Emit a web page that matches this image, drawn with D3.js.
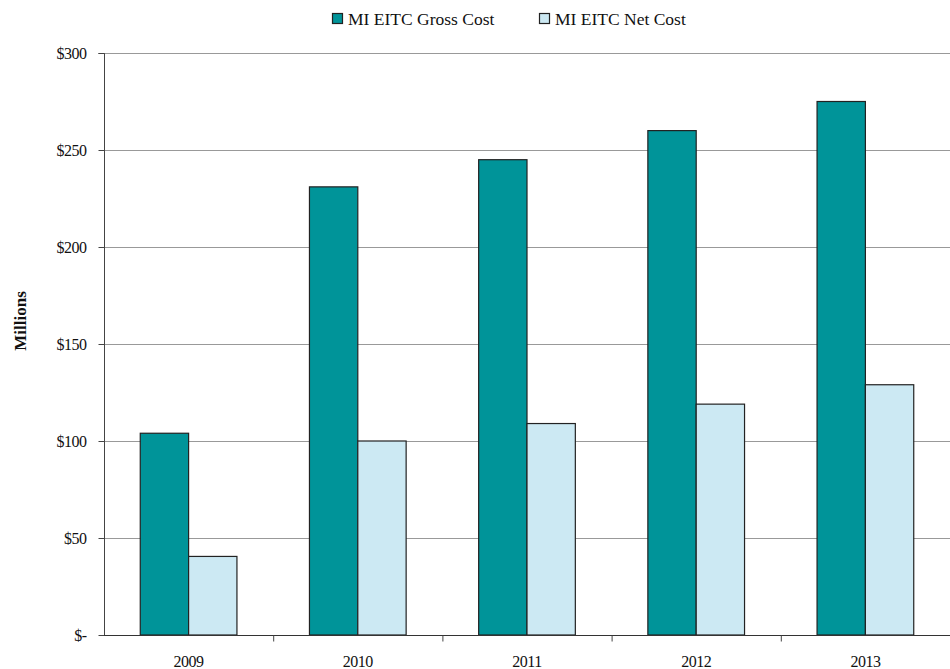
<!DOCTYPE html>
<html><head><meta charset="utf-8">
<script src="https://cdn.jsdelivr.net/npm/d3@7"></script>
<style>body{margin:0;background:#fff}svg{display:block}text{font-family:"Liberation Serif","Times New Roman","DejaVu Serif",serif;fill:#111}</style>
</head><body><svg id="c" width="950" height="669"></svg>
<script>
const years = ["2009","2010","2011","2012","2013"];
const grossCost = [104, 231, 245, 260, 275];
const netCost = [40.5, 100, 109, 119, 129];
const seriesNames = ["MI EITC Gross Cost","MI EITC Net Cost"];
const seriesColors = ["#009499","#cce9f3"];
const yTicks = [0,50,100,150,200,250,300];

const svg = d3.select("#c");
const m = {l:104, r:950, t:53, b:635};
const x = d3.scaleBand().domain(years).range([m.l, m.r]).paddingInner(0).paddingOuter(0);
const y = d3.scaleLinear().domain([0,300]).range([m.b, m.t]);
const bw = x.bandwidth()*0.2857;
const gap = (x.bandwidth() - 2*bw)/2;

// gridlines
svg.append("g").selectAll("line").data(yTicks.filter(d=>d>0)).join("line")
  .attr("x1",m.l).attr("x2",m.r).attr("y1",d=>y(d)+0.5).attr("y2",d=>y(d)+0.5)
  .attr("stroke","#999").attr("stroke-width",1);

// y axis
const ya = d3.axisLeft(y).tickValues(yTicks).tickSize(6).tickPadding(12)
  .tickFormat(d=> d===0 ? "$-" : "$"+d);
const gy = svg.append("g").attr("transform",`translate(${m.l+0.5},0)`).call(ya);
gy.select(".domain").attr("stroke","#444").attr("d",`M-6,${m.t}.5H0V${m.b}`);
gy.selectAll(".tick line").attr("stroke","#444");
gy.selectAll("text").attr("font-family","Liberation Serif, serif").style("font-size","16px").style("letter-spacing","-0.5px").attr("fill","#111");

// bars
const data = [grossCost, netCost];
data.forEach((vals,si)=>{
  svg.append("g").selectAll("rect").data(years).join("rect")
    .attr("x",(d)=>x(d)+gap+si*bw)
    .attr("y",(d,i)=>y(vals[i]))
    .attr("width",bw)
    .attr("height",(d,i)=>y(0)-y(vals[i]))
    .attr("fill",seriesColors[si]).attr("stroke","#222").attr("stroke-width",1.2);
});

// x axis
const gx = svg.append("g").attr("transform",`translate(0,${m.b+0.5})`);
gx.append("line").attr("x1",m.l).attr("x2",m.r).attr("stroke","#333").attr("stroke-width",1.2);
gx.selectAll("line.t").data(years.slice(1)).join("line").attr("class","t")
  .attr("x1",d=>x(d)+0.5).attr("x2",d=>x(d)+0.5).attr("y1",0).attr("y2",6).attr("stroke","#444");
gx.selectAll("text").data(years).join("text")
  .attr("x",d=>x(d)+x.bandwidth()/2).attr("y",31).attr("text-anchor","middle")
  .style("font-size","16px").style("letter-spacing","-0.5px").text(d=>d);

// y title
svg.append("text").attr("transform","translate(26,321) rotate(-90)").attr("text-anchor","middle")
  .style("font-size","17px").style("font-weight","bold").text("Millions");

// legend
const lg = [{x:332,t:seriesNames[0],c:seriesColors[0]},{x:539,t:seriesNames[1],c:seriesColors[1]}];
const L = svg.append("g");
L.selectAll("rect").data(lg).join("rect").attr("x",d=>d.x+0.5).attr("y",13.5).attr("width",10).attr("height",10)
  .attr("fill",d=>d.c).attr("stroke","#222").attr("stroke-width",1.2);
L.selectAll("text").data(lg).join("text").attr("x",d=>d.x+16).attr("y",24.5)
  .style("font-size","17.5px").text(d=>d.t);
</script></body></html>
